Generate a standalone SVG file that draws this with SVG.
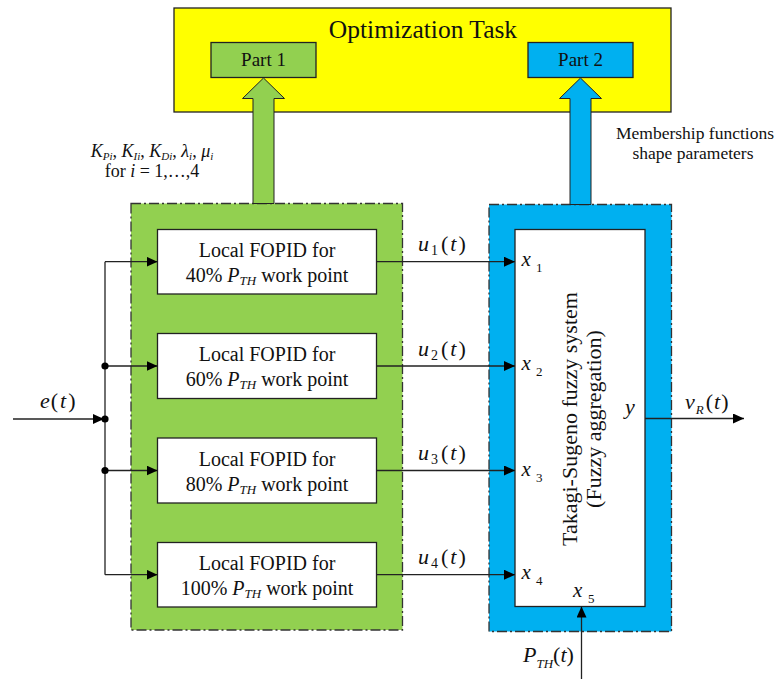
<svg xmlns="http://www.w3.org/2000/svg" width="781" height="679" viewBox="0 0 781 679" font-family="'Liberation Serif','Times New Roman',serif">
<style>
text{font-family:"Liberation Serif","Times New Roman",serif;fill:#111}
.i{font-style:italic}
.box{fill:#fff;stroke:#222;stroke-width:1.3}
.ln{fill:none;stroke:#222;stroke-width:1.3}
.dd{stroke:#333;stroke-width:1.3;stroke-dasharray:10 3 2 3}
</style>
<defs>
<marker id="ah" markerUnits="userSpaceOnUse" markerWidth="12" markerHeight="11" refX="11" refY="5" orient="auto">
<path d="M0,0 L11,5 L0,10 z" fill="#000"/>
</marker>
</defs>

<g id="optimization-task">
<rect x="174" y="8" width="497" height="104" fill="#ffff00" stroke="#222" stroke-width="1.3"/>
<text x="423" y="38" font-size="25.5" text-anchor="middle">Optimization Task</text>
</g>
<g id="part1">
<rect x="211" y="42.5" width="105" height="35" fill="#92d050" stroke="#222" stroke-width="1.3"/>
<text x="263.5" y="66" font-size="19" text-anchor="middle">Part 1</text>
</g>
<g id="part2">
<rect x="528" y="42.5" width="105" height="35" fill="#00b0f0" stroke="#222" stroke-width="1.3"/>
<text x="580.5" y="66" font-size="19" text-anchor="middle">Part 2</text>
</g>

<g id="fopid-group">
<rect x="131" y="203.5" width="271.5" height="426.5" fill="#92d050" class="dd"/>
</g>
<g id="fuzzy-group">
<rect x="489" y="204.5" width="182.5" height="427" fill="#00b0f0" class="dd"/>
</g>

<g id="arrow-part1">
<polygon points="263.5,78 284.5,98.5 274,98.5 274,203.5 253,203.5 253,98.5 242.5,98.5" fill="#92d050" stroke="#222" stroke-width="1"/>
</g>
<g id="arrow-part2">
<polygon points="580.5,78 601.5,98.5 591,98.5 591,204.5 570,204.5 570,98.5 559.5,98.5" fill="#00b0f0" stroke="#222" stroke-width="1"/>
</g>

<g id="param-label">
<text x="152" y="157" font-size="18" text-anchor="middle"><tspan class="i">K</tspan><tspan class="i" font-size="11" dy="3">Pi</tspan><tspan dy="-3">, </tspan><tspan class="i">K</tspan><tspan class="i" font-size="11" dy="3">Ii</tspan><tspan dy="-3">, </tspan><tspan class="i">K</tspan><tspan class="i" font-size="11" dy="3">Di</tspan><tspan dy="-3">, </tspan><tspan class="i">λ</tspan><tspan class="i" font-size="11" dy="3">i</tspan><tspan dy="-3">, </tspan><tspan class="i">μ</tspan><tspan class="i" font-size="11" dy="3">i</tspan></text>
<text x="152" y="177" font-size="18" text-anchor="middle">for <tspan class="i">i</tspan> = 1,…,4</text>
</g>
<g id="membership-label">
<text x="695" y="139" font-size="17.5" text-anchor="middle">Membership functions</text>
<text x="693" y="159" font-size="17.5" text-anchor="middle">shape parameters</text>
</g>

<g id="fopid1">
<rect class="box" x="157.5" y="229.5" width="219" height="64.5"/>
<text x="267" y="257" font-size="20" text-anchor="middle">Local FOPID for</text>
<text x="267" y="282" font-size="20" text-anchor="middle">40% <tspan class="i">P</tspan><tspan class="i" font-size="13" dy="3">TH</tspan><tspan dy="-3"> work point</tspan></text>
</g>
<g id="fopid2">
<rect class="box" x="157.5" y="333.5" width="219" height="65"/>
<text x="267" y="361" font-size="20" text-anchor="middle">Local FOPID for</text>
<text x="267" y="386" font-size="20" text-anchor="middle">60% <tspan class="i">P</tspan><tspan class="i" font-size="13" dy="3">TH</tspan><tspan dy="-3"> work point</tspan></text>
</g>
<g id="fopid3">
<rect class="box" x="157.5" y="438" width="219" height="65"/>
<text x="267" y="465.5" font-size="20" text-anchor="middle">Local FOPID for</text>
<text x="267" y="490.5" font-size="20" text-anchor="middle">80% <tspan class="i">P</tspan><tspan class="i" font-size="13" dy="3">TH</tspan><tspan dy="-3"> work point</tspan></text>
</g>
<g id="fopid4">
<rect class="box" x="157.5" y="542.5" width="219" height="64.5"/>
<text x="267" y="570" font-size="20" text-anchor="middle">Local FOPID for</text>
<text x="267" y="595" font-size="20" text-anchor="middle">100% <tspan class="i">P</tspan><tspan class="i" font-size="13" dy="3">TH</tspan><tspan dy="-3"> work point</tspan></text>
</g>

<g id="fuzzy-system">
<rect class="box" x="515" y="229.5" width="130" height="377"/>
<g transform="translate(577,419) rotate(-90)">
<text x="0" y="0" font-size="22" text-anchor="middle">Takagi-Sugeno fuzzy system</text>
<text x="0" y="24" font-size="22" text-anchor="middle">(Fuzzy aggregation)</text>
</g>
<text x="521.5" y="266" font-size="21" class="i">x</text><text x="536" y="272" font-size="13">1</text>
<text x="521.5" y="370" font-size="21" class="i">x</text><text x="536" y="376" font-size="13">2</text>
<text x="521.5" y="475.5" font-size="21" class="i">x</text><text x="536" y="481.5" font-size="13">3</text>
<text x="521.5" y="579" font-size="21" class="i">x</text><text x="536" y="585" font-size="13">4</text>
<text x="573" y="597" font-size="21" class="i">x</text><text x="588" y="603" font-size="13">5</text>
<text x="625" y="414" font-size="22" class="i">y</text>
</g>

<g id="connectors">
<line class="ln" x1="13" y1="419" x2="104" y2="419" marker-end="url(#ah)"/>
<line class="ln" x1="105" y1="261.7" x2="105" y2="574.7"/>
<line class="ln" x1="105" y1="261.7" x2="157.5" y2="261.7" marker-end="url(#ah)"/>
<line class="ln" x1="105" y1="366" x2="157.5" y2="366" marker-end="url(#ah)"/>
<line class="ln" x1="105" y1="470.5" x2="157.5" y2="470.5" marker-end="url(#ah)"/>
<line class="ln" x1="105" y1="574.7" x2="157.5" y2="574.7" marker-end="url(#ah)"/>
<circle cx="105" cy="366" r="3.6" fill="#000"/>
<circle cx="105" cy="419" r="3.6" fill="#000"/>
<circle cx="105" cy="470.5" r="3.6" fill="#000"/>
<line class="ln" x1="376.5" y1="261.7" x2="515" y2="261.7" marker-end="url(#ah)"/>
<line class="ln" x1="376.5" y1="366" x2="515" y2="366" marker-end="url(#ah)"/>
<line class="ln" x1="376.5" y1="470.5" x2="515" y2="470.5" marker-end="url(#ah)"/>
<line class="ln" x1="376.5" y1="574.7" x2="515" y2="574.7" marker-end="url(#ah)"/>
<line class="ln" x1="645" y1="418.5" x2="744" y2="418.5" marker-end="url(#ah)"/>
<line class="ln" x1="581.5" y1="679" x2="581.5" y2="606.5" marker-end="url(#ah)"/>
</g>

<g id="signal-labels">
<text x="40" y="408" font-size="22"><tspan class="i">e</tspan><tspan dx="1">(</tspan><tspan class="i" dx="2">t</tspan><tspan dx="2">)</tspan></text>
<text x="418" y="251" font-size="22"><tspan class="i">u</tspan><tspan font-size="14" dx="2" dy="4">1</tspan><tspan dx="3" dy="-4">(</tspan><tspan class="i" dx="2">t</tspan><tspan dx="2">)</tspan></text>
<text x="418" y="355.5" font-size="22"><tspan class="i">u</tspan><tspan font-size="14" dx="2" dy="4">2</tspan><tspan dx="3" dy="-4">(</tspan><tspan class="i" dx="2">t</tspan><tspan dx="2">)</tspan></text>
<text x="418" y="460" font-size="22"><tspan class="i">u</tspan><tspan font-size="14" dx="2" dy="4">3</tspan><tspan dx="3" dy="-4">(</tspan><tspan class="i" dx="2">t</tspan><tspan dx="2">)</tspan></text>
<text x="418" y="564" font-size="22"><tspan class="i">u</tspan><tspan font-size="14" dx="2" dy="4">4</tspan><tspan dx="3" dy="-4">(</tspan><tspan class="i" dx="2">t</tspan><tspan dx="2">)</tspan></text>
<text x="685" y="409" font-size="22"><tspan class="i">v</tspan><tspan class="i" font-size="13" dx="1" dy="5">R</tspan><tspan dx="2" dy="-5">(</tspan><tspan class="i" dx="1">t</tspan><tspan dx="1">)</tspan></text>
<text x="523" y="662" font-size="22"><tspan class="i">P</tspan><tspan class="i" font-size="13" dy="6">TH</tspan><tspan dy="-6">(</tspan><tspan class="i">t</tspan>)</text>
</g>
</svg>
